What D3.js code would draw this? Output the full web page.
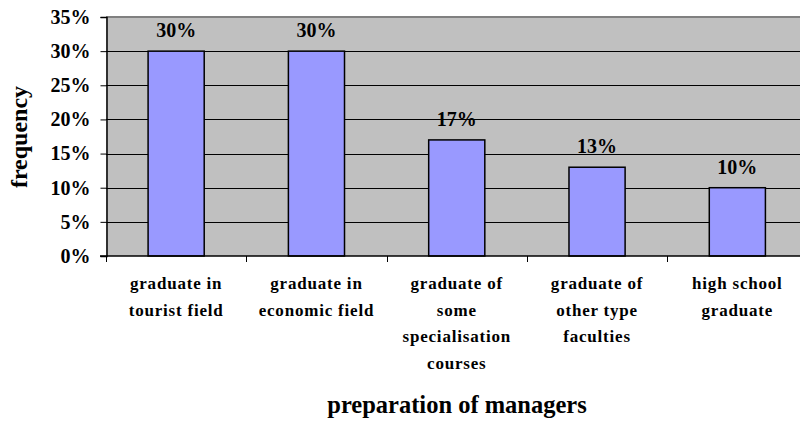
<!DOCTYPE html>
<html>
<head>
<meta charset="utf-8">
<script src="https://cdn.jsdelivr.net/npm/d3@7"></script>
<style>
  body { margin: 0; background: #fff; }
  text { font-family: "Liberation Serif", "Times New Roman", serif; font-weight: bold; fill: #000; }
</style>
</head>
<body>
<svg id="chart" width="800" height="424"></svg>
<script>
// data
const categories = [
    ["graduate in", "tourist field"],
    ["graduate in", "economic field"],
    ["graduate of", "some", "specialisation", "courses"],
    ["graduate of", "other type", "faculties"],
    ["high school", "graduate"]
];
const values = [0.30, 0.30, 0.17, 0.13, 0.10];
const yTicks = [0, 0.05, 0.10, 0.15, 0.20, 0.25, 0.30, 0.35];

const svg = d3.select("#chart");

// plot area (right edge runs a bit past the window, like the source)
const plot = {left: 106, top: 17, right: 807.5, bottom: 256};

const x = d3.scaleBand()
    .domain(d3.range(values.length))
    .range([plot.left, plot.right])
    .paddingInner(0.6)
    .paddingOuter(0.3);

const y = d3.scaleLinear()
    .domain([0, 0.35])
    .range([plot.bottom, plot.top]);

// background
svg.append("rect")
    .attr("x", plot.left)
    .attr("y", plot.top)
    .attr("width", plot.right - plot.left)
    .attr("height", plot.bottom - plot.top)
    .attr("fill", "#c0c0c0");

// grid
svg.append("g")
    .selectAll("line")
    .data(yTicks.filter(d => d > 0 && d < 0.35))
    .join("line")
    .attr("x1", plot.left)
    .attr("x2", plot.right)
    .attr("y1", d => Math.round(y(d)) + 0.5)
    .attr("y2", d => Math.round(y(d)) + 0.5)
    .attr("stroke", "#000")
    .attr("stroke-width", 1);

// top border
svg.append("line")
    .attr("x1", plot.left).attr("x2", plot.right)
    .attr("y1", plot.top).attr("y2", plot.top)
    .attr("stroke", "#808080")
    .attr("stroke-width", 2);

// bars
svg.append("g")
    .selectAll("rect")
    .data(values)
    .join("rect")
    .attr("x", (d, i) => x(i))
    .attr("y", d => y(d))
    .attr("width", x.bandwidth())
    .attr("height", d => plot.bottom - y(d))
    .attr("fill", "#9999ff")
    .attr("stroke", "#000")
    .attr("stroke-width", 1.5);

// value labels
svg.append("g")
    .selectAll("text")
    .data(values)
    .join("text")
    .attr("x", (d, i) => x(i) + x.bandwidth() / 2)
    .attr("y", d => y(d) - 14)
    .attr("text-anchor", "middle")
    .style("font-size", "20px")
    .text(d => Math.round(d * 100) + "%");

// y axis
const yAxis = d3.axisLeft(y)
    .tickValues(yTicks)
    .tickSize(6)
    .tickPadding(10)
    .tickFormat(d => Math.round(d * 100) + "%");

const yg = svg.append("g")
    .attr("transform", "translate(" + (plot.left + 0.5) + ",0)")
    .call(yAxis);
yg.select(".domain").attr("stroke", "#000").attr("stroke-width", 1.5);
yg.selectAll(".tick line").attr("stroke", "#000");
yg.selectAll(".tick text")
    .style("font-size", "20px")
    .style("font-family", "Liberation Serif, serif")
    .style("font-weight", "bold")
    .attr("fill", "#000");

// x axis line and boundary ticks
svg.append("line")
    .attr("x1", plot.left - 6).attr("x2", plot.right)
    .attr("y1", plot.bottom).attr("y2", plot.bottom)
    .attr("stroke", "#000")
    .attr("stroke-width", 1.5);

const step = x.step();
svg.append("g")
    .selectAll("line")
    .data(d3.range(values.length + 1))
    .join("line")
    .attr("x1", i => Math.round(plot.left + i * step) + 0.5)
    .attr("x2", i => Math.round(plot.left + i * step) + 0.5)
    .attr("y1", plot.bottom)
    .attr("y2", plot.bottom + 6)
    .attr("stroke", "#000");

// category labels
const cat = svg.append("g")
    .selectAll("text")
    .data(categories)
    .join("text")
    .attr("text-anchor", "middle")
    .style("font-size", "17px")
    .style("letter-spacing", "0.8px")
    .attr("x", (d, i) => x(i) + x.bandwidth() / 2);

cat.selectAll("tspan")
    .data(d => d)
    .join("tspan")
    .attr("x", function() { return d3.select(this.parentNode).attr("x"); })
    .attr("y", (d, j) => 289 + j * 26.5)
    .text(d => d);

// axis titles
svg.append("text")
    .attr("x", 457)
    .attr("y", 413)
    .attr("text-anchor", "middle")
    .style("font-size", "24.5px")
    .text("preparation of managers");

svg.append("text")
    .attr("transform", "translate(27," + 137 + ") rotate(-90)")
    .attr("text-anchor", "middle")
    .style("font-size", "24px")
    .text("frequency");
</script>
</body>
</html>
